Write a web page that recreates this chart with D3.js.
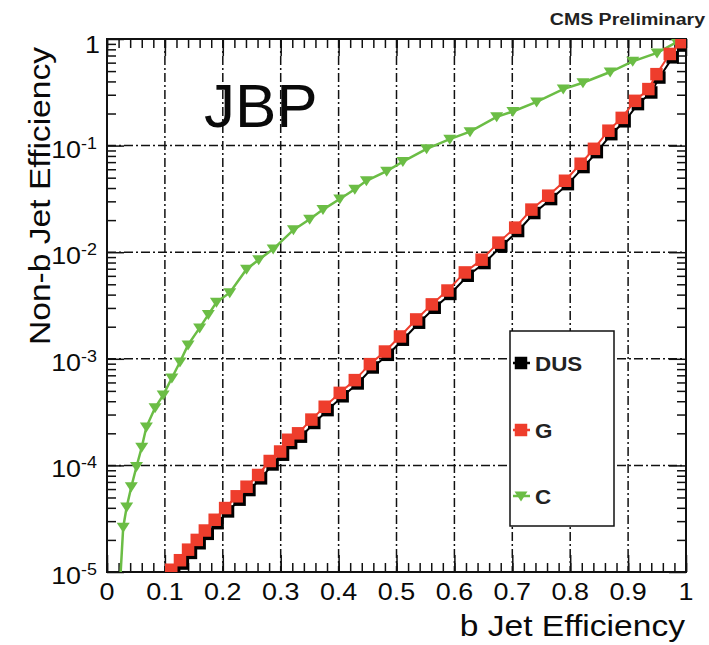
<!DOCTYPE html>
<html>
<head>
<meta charset="utf-8">
<script src="https://cdn.jsdelivr.net/npm/d3@7"></script>
<style>
  body { margin: 0; background: #fff; }
  svg { display: block; }
  text { font-family: "Liberation Sans", Arial, sans-serif; fill: #0a0a0a; }
</style>
</head>
<body>
<div id="chart"></div>
<script>
// G (gluon) mistag rate vs b efficiency
var gX = [0.111, 0.126, 0.140, 0.155, 0.169, 0.186, 0.204, 0.224, 0.241, 0.261, 0.281, 0.299, 0.313, 0.330,
    0.353, 0.376, 0.402, 0.428, 0.454, 0.480, 0.506, 0.534, 0.561, 0.588, 0.618, 0.647, 0.676, 0.705,
    0.733, 0.762, 0.791, 0.818, 0.841, 0.866, 0.889, 0.912, 0.935, 0.949, 0.972, 0.992, 1.0];
var gY = [1.05e-5, 1.29e-5, 1.62e-5, 2.0e-5, 2.45e-5, 3.09e-5, 3.98e-5, 5.13e-5, 6.31e-5, 8.13e-5, 1.10e-4,
    1.35e-4, 1.74e-4, 2.0e-4, 2.69e-4, 3.55e-4, 4.79e-4, 6.31e-4, 8.91e-4, 1.17e-3, 1.62e-3, 2.34e-3,
    3.24e-3, 4.37e-3, 6.46e-3, 8.51e-3, 1.23e-2, 1.70e-2, 2.51e-2, 3.39e-2, 4.68e-2, 6.76e-2, 9.33e-2,
    0.138, 0.182, 0.263, 0.339, 0.468, 0.724, 0.933, 1.0];

// DUS (light quark) mistag rate
var dusX = [0.116, 0.131, 0.145, 0.160, 0.174, 0.191, 0.209, 0.229, 0.246, 0.266, 0.286, 0.304, 0.318, 0.335,
    0.358, 0.381, 0.407, 0.433, 0.459, 0.485, 0.511, 0.539, 0.566, 0.593, 0.623, 0.652, 0.681, 0.710,
    0.738, 0.767, 0.796, 0.823, 0.846, 0.871, 0.894, 0.917, 0.940, 0.954, 0.977, 0.995, 1.0];
var dusY = [9.8e-6, 1.20e-5, 1.51e-5, 1.86e-5, 2.28e-5, 2.87e-5, 3.70e-5, 4.77e-5, 5.87e-5, 7.56e-5, 1.02e-4,
    1.26e-4, 1.62e-4, 1.86e-4, 2.50e-4, 3.30e-4, 4.45e-4, 5.87e-4, 8.29e-4, 1.09e-3, 1.51e-3, 2.18e-3,
    3.01e-3, 4.06e-3, 6.01e-3, 7.91e-3, 1.14e-2, 1.58e-2, 2.33e-2, 3.15e-2, 4.35e-2, 6.29e-2, 8.68e-2,
    0.128, 0.169, 0.245, 0.315, 0.435, 0.673, 0.868, 1.0];

// C (charm) mistag rate
var cX = [0.022, 0.028, 0.034, 0.042, 0.051, 0.060, 0.068, 0.083, 0.097, 0.112, 0.126, 0.140, 0.160, 0.175,
    0.189, 0.212, 0.241, 0.262, 0.287, 0.322, 0.350, 0.373, 0.402, 0.428, 0.448, 0.483, 0.511, 0.552,
    0.592, 0.627, 0.673, 0.701, 0.742, 0.788, 0.822, 0.869, 0.908, 0.950, 0.984, 1.0];
var cY = [7e-6, 2.63e-5, 4.07e-5, 6.31e-5, 9.77e-5, 1.48e-4, 2.29e-4, 3.47e-4, 4.57e-4, 6.61e-4, 9.33e-4,
    1.35e-3, 1.95e-3, 2.6e-3, 3.39e-3, 4.17e-3, 6.92e-3, 8.5e-3, 1.07e-2, 1.62e-2, 2.04e-2, 2.51e-2,
    3.16e-2, 3.89e-2, 4.68e-2, 5.75e-2, 7.08e-2, 9.33e-2, 0.115, 0.135, 0.186, 0.209, 0.257, 0.339,
    0.389, 0.490, 0.617, 0.741, 0.933, 1.0];

var xTicks = [0, 0.1, 0.2, 0.3, 0.4, 0.5, 0.6, 0.7, 0.8, 0.9, 1];
var xTickLabels = ['0', '0.1', '0.2', '0.3', '0.4', '0.5', '0.6', '0.7', '0.8', '0.9', '1'];
var yTicks = [1e-5, 1e-4, 1e-3, 1e-2, 1e-1, 1];
var yExponents = ['-5', '-4', '-3', '-2', '-1', ''];
var legendNames = ['DUS', 'G', 'C'];

var chart_width = 709;
var chart_height = 645;
var plot_left = 107, plot_right = 686, plot_top = 39, plot_bottom = 572;
var stretch = 'scale(1.12,1)';

var svg = d3.select('#chart')
    .append('svg')
    .attr('width', chart_width)
    .attr('height', chart_height);

svg.append('clipPath')
    .attr('id', 'plot-clip')
    .append('rect')
    .attr('x', plot_left)
    .attr('y', plot_top)
    .attr('width', plot_right - plot_left)
    .attr('height', plot_bottom - plot_top);

var x_scale = d3.scaleLinear().domain([0, 1]).range([plot_left, plot_right]);
var y_scale = d3.scaleLog().domain([1e-5, 1]).range([plot_bottom, plot_top]);

// grid
var grid = svg.append('g').attr('class', 'grid');
grid.selectAll('line.vx')
    .data(xTicks.slice(1, -1))
    .enter()
    .append('line')
    .attr('class', 'vx')
    .attr('x1', function (d) { return x_scale(d); })
    .attr('x2', function (d) { return x_scale(d); })
    .attr('y1', plot_top)
    .attr('y2', plot_bottom);
grid.selectAll('line.hy')
    .data(yTicks.slice(1, -1))
    .enter()
    .append('line')
    .attr('class', 'hy')
    .attr('x1', plot_left)
    .attr('x2', plot_right)
    .attr('y1', function (d) { return y_scale(d); })
    .attr('y2', function (d) { return y_scale(d); });
grid.selectAll('line')
    .attr('stroke', '#111')
    .attr('stroke-width', 1.5)
    .attr('stroke-dasharray', '9,3,2,3');

// minor ticks
var xMinor = d3.range(0, 1.0001, 0.02);
var yMinor = [];
for (var e = -5; e < 0; e++) {
    for (var m = 2; m < 10; m++) yMinor.push(m * Math.pow(10, e));
}

function tickAxis(axis, transform) {
    var g = svg.append('g').attr('transform', transform).call(axis);
    g.select('.domain').remove();
    g.selectAll('.tick line').attr('stroke', '#111').attr('stroke-width', 1.5);
    return g;
}

tickAxis(d3.axisBottom(x_scale).tickValues(xMinor).tickSize(-9).tickFormat(''), 'translate(0,' + plot_bottom + ')');
tickAxis(d3.axisTop(x_scale).tickValues(xMinor).tickSize(-9).tickFormat(''), 'translate(0,' + plot_top + ')');
tickAxis(d3.axisBottom(x_scale).tickValues(xTicks).tickSize(-17).tickFormat(''), 'translate(0,' + plot_bottom + ')');
tickAxis(d3.axisTop(x_scale).tickValues(xTicks).tickSize(-17).tickFormat(''), 'translate(0,' + plot_top + ')');
tickAxis(d3.axisLeft(y_scale).tickValues(yMinor).tickSize(-9).tickFormat(''), 'translate(' + plot_left + ',0)');
tickAxis(d3.axisRight(y_scale).tickValues(yMinor).tickSize(-9).tickFormat(''), 'translate(' + plot_right + ',0)');
tickAxis(d3.axisLeft(y_scale).tickValues(yTicks).tickSize(-17).tickFormat(''), 'translate(' + plot_left + ',0)');
tickAxis(d3.axisRight(y_scale).tickValues(yTicks).tickSize(-17).tickFormat(''), 'translate(' + plot_right + ',0)');

// frame
svg.append('rect')
    .attr('x', plot_left)
    .attr('y', plot_top)
    .attr('width', plot_right - plot_left)
    .attr('height', plot_bottom - plot_top)
    .attr('fill', 'none')
    .attr('stroke', '#111')
    .attr('stroke-width', 2);

// x tick labels
svg.append('g')
    .selectAll('g')
    .data(xTicks)
    .enter()
    .append('g')
    .attr('transform', function (d) { return 'translate(' + x_scale(d) + ',600)'; })
    .append('text')
    .attr('transform', stretch)
    .attr('text-anchor', 'middle')
    .style('font-size', '24px')
    .text(function (d, i) { return xTickLabels[i]; });

// y tick labels
var yl = svg.append('g')
    .selectAll('g')
    .data(yTicks)
    .enter()
    .append('g')
    .attr('transform', function (d) {
        return d === 1 ? 'translate(100,53)' : 'translate(97,' + (y_scale(d) + 12) + ')';
    })
    .append('text')
    .attr('transform', stretch)
    .attr('text-anchor', 'end')
    .style('font-size', '24px');
yl.append('tspan')
    .text(function (d, i) { return yExponents[i] === '' ? '1' : '10'; });
yl.append('tspan')
    .attr('dy', -9)
    .style('font-size', '16px')
    .text(function (d, i) { return yExponents[i]; });

// axis titles
svg.append('text')
    .attr('transform', 'translate(685,636) scale(1.12,1)')
    .attr('text-anchor', 'end')
    .style('font-size', '30px')
    .text('b Jet Efficiency');

svg.append('text')
    .attr('transform', 'translate(50,196) rotate(-90) scale(1.12,1)')
    .attr('text-anchor', 'middle')
    .style('font-size', '30px')
    .text('Non-b Jet Efficiency');

svg.append('text')
    .attr('transform', 'translate(705,25) scale(1.15,1)')
    .attr('text-anchor', 'end')
    .style('font-size', '17px')
    .style('font-weight', 'bold')
    .style('fill', '#222')
    .text('CMS Preliminary');

svg.append('text')
    .attr('x', 204)
    .attr('y', 127)
    .style('font-size', '62px')
    .text('JBP');

// series
var plot = svg.append('g').attr('clip-path', 'url(#plot-clip)');
var line = d3.line()
    .x(function (d) { return x_scale(d[0]); })
    .y(function (d) { return y_scale(d[1]); });

function zip(xs, ys) {
    return xs.map(function (v, i) { return [v, ys[i]]; });
}

var squareSym = d3.symbol().type(d3.symbolSquare).size(156)();
var triSym = 'M-6.5,-4.5L6.5,-4.5L0,5.5Z';

function drawSeries(pts, color, path, lineWidth) {
    plot.append('path')
        .datum(pts)
        .attr('d', line)
        .attr('fill', 'none')
        .attr('stroke', color)
        .attr('stroke-width', lineWidth);
    plot.append('g')
        .selectAll('path')
        .data(pts)
        .enter()
        .append('path')
        .attr('transform', function (d) {
            return 'translate(' + x_scale(d[0]) + ',' + y_scale(d[1]) + ')';
        })
        .attr('d', path)
        .attr('fill', color);
}

drawSeries(zip(cX, cY), '#6bbd45', triSym, 2.5);
drawSeries(zip(dusX, dusY), '#000000', squareSym, 2);
drawSeries(zip(gX, gY), '#ee3d2c', squareSym, 2);

// legend
var legend = svg.append('g');
legend.append('rect')
    .attr('x', 510)
    .attr('y', 331)
    .attr('width', 104)
    .attr('height', 195)
    .attr('fill', '#fff')
    .attr('stroke', '#111')
    .attr('stroke-width', 1.5);

var legendColors = ['#000000', '#ee3d2c', '#6bbd45'];
var legendSyms = [squareSym, squareSym, triSym];
var legendYs = [363, 430, 496];

var items = legend.selectAll('g.item')
    .data(legendNames)
    .enter()
    .append('g')
    .attr('transform', function (d, i) { return 'translate(521,' + legendYs[i] + ')'; });
items.append('line')
    .attr('x1', -8).attr('x2', 9)
    .attr('stroke', function (d, i) { return legendColors[i]; })
    .attr('stroke-width', 2.5);
items.append('path')
    .attr('d', function (d, i) { return legendSyms[i]; })
    .attr('fill', function (d, i) { return legendColors[i]; });
items.append('text')
    .attr('transform', 'translate(14,8) scale(1.12,1)')
    .style('font-size', '20px')
    .style('font-weight', 'bold')
    .style('fill', '#222')
    .text(function (d) { return d; });
</script>
</body>
</html>
